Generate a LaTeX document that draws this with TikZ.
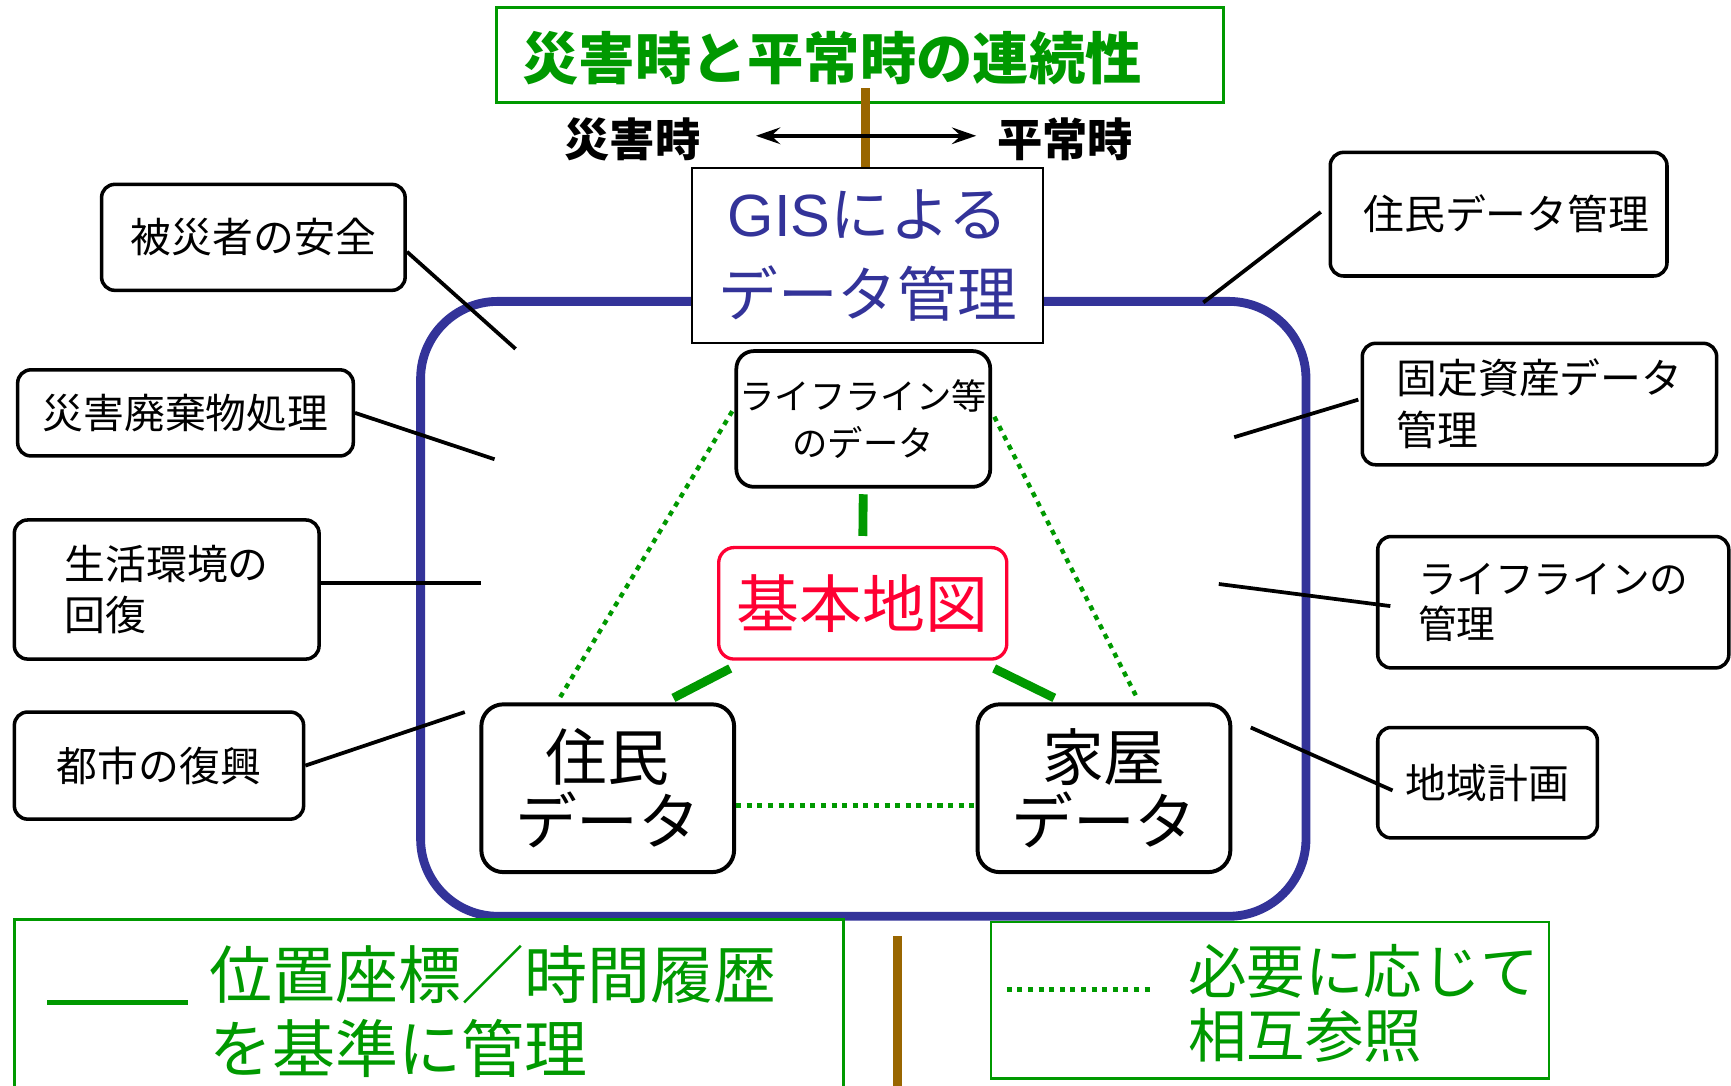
\documentclass[tikz,border=0pt]{standalone}
\usepackage{fontspec}
\setmainfont{Noto Sans CJK JP}
\newfontfamily\latinfont{Liberation Sans}
\usetikzlibrary{arrows.meta,calc}
\definecolor{tgreen}{RGB}{0,153,0}
\definecolor{tblue}{RGB}{51,51,153}
\definecolor{tbrown}{RGB}{153,102,0}
\definecolor{tred}{RGB}{255,0,51}
\newcommand{\myfs}[2]{\fontsize{#1}{#2}\selectfont}
\begin{document}
\begin{tikzpicture}[x=1pt,y=-1pt,
  obox/.style={draw=black, line width=3.2pt, rounded corners=12pt, inner sep=0pt, align=left, font=\myfs{37}{47}},
  bigbox/.style={draw=black, line width=3.6pt, rounded corners=20pt, inner sep=0pt, align=center, font=\myfs{56}{58}, minimum width=229pt, minimum height=152pt},
  conn/.style={black, line width=3.4pt},
  gthick/.style={tgreen, line width=8pt},
  gdot/.style={tgreen, line width=4.6pt, dash pattern=on 4.6pt off 5pt},
  brownline/.style={tbrown, line width=8pt},
  legbox/.style={draw=tgreen, line width=2.5pt, inner sep=0pt},
  legtext/.style={anchor=west, align=left, text=tgreen, inner sep=0pt},
  tiparrow/.style={line width=3.6pt, {Stealth[length=22pt,width=15pt,inset=8pt]}-{Stealth[length=22pt,width=15pt,inset=8pt]}}
]
\useasboundingbox (0,0) rectangle (1568,983);
\clip (0,0) rectangle (1568,983);

% main frame
\node[draw=tblue, line width=8pt, rounded corners=70pt, minimum width=802pt, minimum height=557pt, inner sep=0pt] (frame) at (782,551.5) {};

% title
\node[draw=tgreen, line width=3pt, minimum width=658pt, minimum height=86pt, inner sep=0pt] (title) at (779,50) {};
\node[font=\myfs{51}{51}\bfseries, text=tgreen, anchor=west, inner sep=0pt] (titletxt) at (473,53) {災害時と平常時の連続性};

% GIS box
\node[draw=black, line width=2pt, fill=white, minimum width=318pt, minimum height=159pt, inner sep=0pt, text=tblue, font=\myfs{54}{72}, align=center] (gis) at (786,231.5) {{\latinfont GIS}による\\データ管理};

\coordinate (bt) at (784,80);
\draw[brownline] (bt) -- (bt |- gis.north);

% time labels and arrow
\node[font=\myfs{41}{41}\bfseries, inner sep=0pt] (dis) at (573,126) {災害時};
\node[font=\myfs{41}{41}\bfseries, inner sep=0pt] (norm) at (965,126) {平常時};
\draw[tiparrow] ([xshift=50pt,yshift=3pt]dis.east) -- ([xshift=-19pt,yshift=3pt]norm.west);

% inner nodes
\node[draw=black, line width=3.4pt, rounded corners=16pt, inner sep=0pt, align=center, minimum width=230pt, minimum height=123pt, font=\myfs{32}{43}] (life) at (782,379.5) {ライフライン等\\のデータ};
\node[draw=tred, line width=3pt, rounded corners=14pt, minimum width=261pt, minimum height=101pt, inner sep=0pt, text=tred, font=\myfs{57}{57}] (map) at (781.5,546.5) {基本地図};
\node[bigbox] (res) at (550.5,714) {住民\\データ};
\node[bigbox] (house) at (1000,714) {家屋\\データ};

% inner connectors
\draw[gthick, shorten <=5pt, shorten >=9pt] (life.south) -- (map.north);
\draw[gthick] ([shift={(12,7)}]map.south west) -- ([shift={(59.5,-4)}]res.north);
\draw[gthick] ([shift={(-13,7)}]map.south east) -- ([shift={(-45,-4)}]house.north);
\draw[gdot, line width=4pt] ([shift={(-2,-7)}]life.west) -- ([shift={(-43.5,-4)}]res.north);
\draw[gdot, line width=4pt] ([shift={(2,-2)}]life.east) -- ([shift={(30,-4)}]house.north);
\draw[gdot] ([yshift=-16pt]res.east) -- ([yshift=-16pt]house.west);

% left boxes
\node[obox, minimum width=275pt, minimum height=96pt] (safe) at (229.5,215) {被災者の安全};
\node[obox, minimum width=304pt, minimum height=78pt] (waste) at (168,374) {災害廃棄物処理};
\node[obox, minimum width=276pt, minimum height=126pt] (env) at (151,534) {生活環境の\\回復};
\node[obox, minimum width=262pt, minimum height=97pt] (city) at (144,693.5) {都市の復興};

\coordinate (c1) at (467,316);
\coordinate (c2) at (448,416);
\coordinate (c3) at (436,528);
\coordinate (c4) at (421,645);
\draw[conn] ([yshift=-13pt]safe.east) -- (c1);
\draw[conn] (waste.east) -- (c2);
\draw[conn] ([yshift=6pt]env.east) -- (c3);
\draw[conn] (city.east) -- (c4);

% right boxes
\node[obox, minimum width=305pt, minimum height=112pt] (rdata) at (1357.5,194) {\hspace*{14pt}住民データ管理};
\node[obox, minimum width=321pt, minimum height=110pt] (asset) at (1394.5,366) {固定資産データ\\管理};
\node[obox, minimum width=318pt, minimum height=119pt, font=\myfs{35}{41}] (lmgmt) at (1407,545.5) {ライフラインの\\管理};
\node[obox, minimum width=199pt, minimum height=100pt] (plan) at (1347.5,709) {地域計画};

\coordinate (d1) at (1090,274);
\coordinate (d2) at (1118,396);
\coordinate (d3) at (1104,529);
\coordinate (d4) at (1133,659);
\draw[conn] ([shift={(-7,-2)}]rdata.west) -- (d1);
\draw[conn] ([shift={(-2,-4)}]asset.west) -- (d2);
\draw[conn] ([shift={(13,3.5)}]lmgmt.west) -- (d3);
\draw[conn] ([shift={(15,7)}]plan.west) -- (d4);

% legends
\node[legbox, minimum width=751pt, minimum height=170pt] (leg1) at (388.5,918) {};
\coordinate (s1a) at (43,908);
\coordinate (s1b) at (170,908);
\draw[tgreen, line width=5pt] (s1a) -- (s1b);
\node[legtext, font=\myfs{57}{67}] (leg1txt) at (190,916.5) {位置座標／時間履歴\\を基準に管理};

\coordinate (bb1) at (813,848);
\coordinate (bb2) at (813,995);
\draw[brownline] (bb1) -- (bb2);

\node[legbox, line width=2pt, minimum width=505pt, minimum height=142pt] (leg2) at (1150.5,906) {};
\coordinate (s2a) at (912,896);
\coordinate (s2b) at (1042,896);
\draw[gdot] (s2a) -- (s2b);
\node[legtext, font=\myfs{53}{58}] (leg2txt) at (1076,909) {必要に応じて\\相互参照};
\end{tikzpicture}
\end{document}
